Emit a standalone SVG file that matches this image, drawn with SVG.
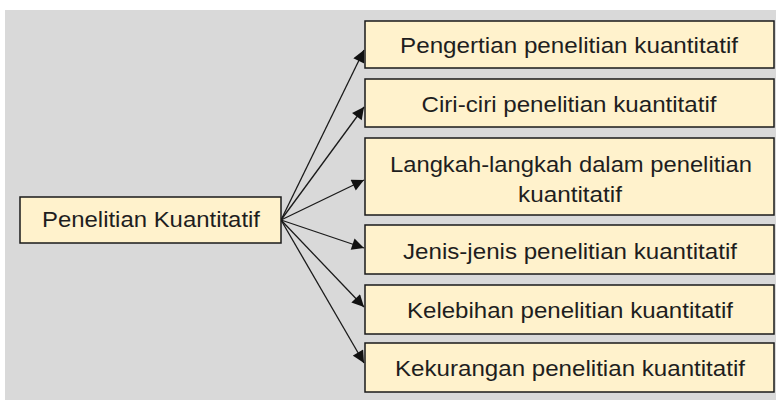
<svg xmlns="http://www.w3.org/2000/svg" width="776" height="400" viewBox="0 0 776 400">
<style>
.box{fill:#FFF2CC;stroke:#1a1a1a;stroke-width:1.5}
.t{font-family:"Liberation Sans",Arial,sans-serif;font-size:22px;fill:#1e1e1e;text-anchor:middle}
.c{stroke:#1a1a1a;stroke-width:1.3;fill:none;marker-end:url(#ah)}
</style>
<defs>
<marker id="ah" viewBox="0 0 10 10" refX="10" refY="5" markerWidth="13" markerHeight="12" markerUnits="userSpaceOnUse" orient="auto">
<path d="M0,0 L10,5 L0,10 z" fill="#111"/>
</marker>
</defs>
<rect x="0" y="0" width="776" height="400" fill="#fff"/>
<rect x="5" y="10" width="771" height="390" fill="#D9D9D9"/>
<g id="connectors">
<line class="c" x1="281" y1="220" x2="364" y2="50"/>
<line class="c" x1="281" y1="220" x2="364" y2="107"/>
<line class="c" x1="281" y1="220" x2="364" y2="180"/>
<line class="c" x1="281" y1="220" x2="364" y2="248"/>
<line class="c" x1="281" y1="220" x2="364" y2="307"/>
<line class="c" x1="281" y1="220" x2="364" y2="363"/>
</g>
<g id="root">
<rect class="box" x="20" y="197" width="261" height="46"/>
<text class="t" x="151" y="227" textLength="218" lengthAdjust="spacingAndGlyphs">Penelitian Kuantitatif</text>
</g>
<g id="n1">
<rect class="box" x="365" y="21" width="409" height="47"/>
<text class="t" x="569" y="53" textLength="338" lengthAdjust="spacingAndGlyphs">Pengertian penelitian kuantitatif</text>
</g>
<g id="n2">
<rect class="box" x="365" y="79" width="409" height="48"/>
<text class="t" x="569" y="112" textLength="295" lengthAdjust="spacingAndGlyphs">Ciri-ciri penelitian kuantitatif</text>
</g>
<g id="n3">
<rect class="box" x="365" y="138" width="409" height="77"/>
<text class="t" x="571" y="172" textLength="362" lengthAdjust="spacingAndGlyphs">Langkah-langkah dalam penelitian</text>
<text class="t" x="570" y="202" textLength="104" lengthAdjust="spacingAndGlyphs">kuantitatif</text>
</g>
<g id="n4">
<rect class="box" x="365" y="225" width="409" height="49"/>
<text class="t" x="570" y="259" textLength="334" lengthAdjust="spacingAndGlyphs">Jenis-jenis penelitian kuantitatif</text>
</g>
<g id="n5">
<rect class="box" x="365" y="285" width="409" height="49"/>
<text class="t" x="570" y="318" textLength="326" lengthAdjust="spacingAndGlyphs">Kelebihan penelitian kuantitatif</text>
</g>
<g id="n6">
<rect class="box" x="365" y="343" width="409" height="49"/>
<text class="t" x="570" y="376" textLength="350" lengthAdjust="spacingAndGlyphs">Kekurangan penelitian kuantitatif</text>
</g>
</svg>
